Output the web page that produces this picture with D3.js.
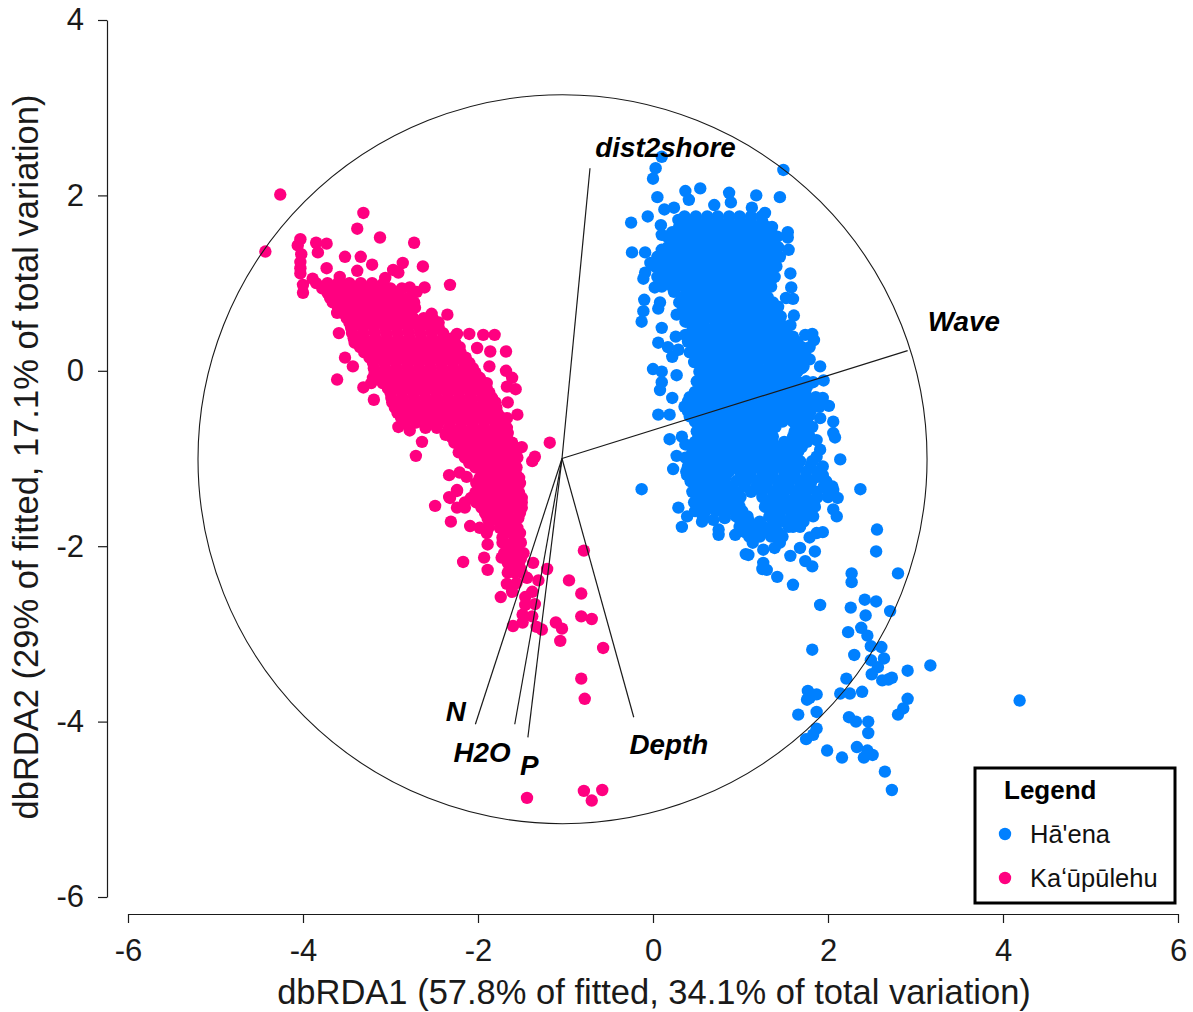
<!DOCTYPE html>
<html><head><meta charset="utf-8">
<script src="https://cdn.jsdelivr.net/npm/d3@7"></script>
<style>html,body{margin:0;background:#fff}svg{display:block}text{font-family:"Liberation Sans",Arial,sans-serif}</style>
</head><body><svg id="c" width="1193" height="1012"></svg>
<script>
const xTicks=[-6,-4,-2,0,2,4,6];
const yTicks=[-6,-4,-2,0,2,4];
const xTitle="dbRDA1 (57.8% of fitted, 34.1% of total variation)";
const yTitle="dbRDA2 (29% of fitted, 17.1% of total variation)";
const sites=["Hā'ena","Kaʻūpūlehu"];
const vectorOrigin=[-1.04,-1.00];
const circleCentre=[-1.034,-1.008];
const circleRadiusX=4.166;
const circleRadiusY=4.156;
const vectorNames=["dist2shore","Wave","Depth","P","H2O","N"];
const vectorEndX=[-0.72,2.91,-0.22,-1.43,-1.58,-2.03];
const vectorEndY=[2.31,0.23,-3.95,-4.18,-4.03,-4.03];
const vectorLabelX=[-0.66,3.14,-0.27,-1.52,-2.28,-2.37];
const vectorLabelY=[2.44,0.45,-4.37,-4.61,-4.46,-3.99];

// dense cloud, read band by band: [y, x, x, x, ...]
const haenaCore=[
[1.76,0.36,0.49,0.62,0.74,0.87,0.99,1.12,1.24],
[1.64,0.30,0.43,0.55,0.68,0.80,0.93,1.05,1.18,1.30,1.36],
[1.53,0.16,0.28,0.41,0.53,0.66,0.78,0.91,1.03,1.16,1.28,1.42],
[1.41,0.17,0.30,0.42,0.55,0.67,0.80,0.92,1.05,1.17,1.30,1.43],
[1.30,0.05,0.18,0.31,0.43,0.56,0.68,0.81,0.93,1.06,1.18,1.31,1.45],
[1.19,0.02,0.15,0.28,0.40,0.53,0.65,0.78,0.90,1.03,1.15,1.28,1.41],
[1.07,0.05,0.18,0.30,0.43,0.55,0.68,0.80,0.93,1.05,1.18,1.30,1.39],
[0.96,0.10,0.22,0.35,0.47,0.60,0.72,0.85,0.97,1.10,1.22,1.35],
[0.84,0.33,0.45,0.58,0.70,0.83,0.95,1.08,1.20,1.31],
[0.73,0.35,0.42,0.55,0.67,0.80,0.92,1.05,1.17,1.30,1.43],
[0.62,0.40,0.52,0.65,0.77,0.90,1.02,1.15,1.27,1.40,1.46],
[0.50,0.45,0.58,0.70,0.83,0.95,1.08,1.20,1.33,1.45,1.53],
[0.39,0.47,0.60,0.72,0.85,0.97,1.10,1.22,1.35,1.47,1.60],
[0.27,0.50,0.62,0.75,0.87,1.00,1.12,1.25,1.37,1.50,1.62,1.70],
[0.16,0.50,0.63,0.75,0.88,1.00,1.13,1.25,1.38,1.50,1.63,1.75],
[0.05,0.58,0.70,0.83,0.95,1.08,1.20,1.33,1.45,1.58,1.72],
[-0.07,0.60,0.72,0.85,0.97,1.10,1.22,1.35,1.47,1.58],
[-0.18,0.58,0.70,0.83,0.95,1.08,1.20,1.33,1.45,1.58,1.72,1.76],
[-0.30,0.42,0.55,0.68,0.80,0.93,1.05,1.18,1.30,1.43,1.55,1.66,1.86],
[-0.41,0.36,0.47,0.60,0.72,0.85,0.97,1.10,1.22,1.35,1.47,1.60,1.72,1.90],
[-0.52,0.42,0.55,0.67,0.80,0.92,1.05,1.17,1.30,1.42,1.55,1.67,1.78],
[-0.64,0.55,0.65,0.78,0.90,1.03,1.15,1.28,1.40,1.68,1.82],
[-0.75,0.52,0.62,0.75,0.87,1.00,1.12,1.25,1.37,1.60,1.73],
[-0.87,0.55,0.68,0.80,0.93,1.05,1.18,1.30,1.43,1.58,1.70],
[-0.98,0.50,0.63,0.75,0.88,1.00,1.13,1.25,1.38,1.50,1.60,1.87],
[-1.09,0.40,0.52,0.65,0.77,0.90,1.02,1.15,1.27,1.40,1.52,1.65,1.80],
[-1.21,0.45,0.58,0.70,0.83,1.00,1.12,1.25,1.37,1.50,1.62,1.75,1.88],
[-1.32,0.50,0.62,0.75,0.87,1.05,1.18,1.30,1.43,1.55,1.68,1.80,1.95,2.05],
[-1.44,0.50,0.63,0.75,0.88,1.00,1.25,1.38,1.50,1.63,1.75,1.88,2.00],
[-1.55,0.53,0.65,0.78,0.90,0.99,1.28,1.40,1.53,1.65,1.78,1.85],
[-1.66,0.57,0.95,1.08,1.33,1.45,1.58,1.70,1.83],
[-1.78,1.02,1.15,1.27,1.40,1.55,1.68],
[-1.89,1.10,1.22,1.35,1.48]
];
const haenaCoreBetween=[
[1.70,0.38,0.50,0.62,0.75,0.87,1.00,1.12,1.25],
[1.58,0.22,0.35,0.47,0.60,0.72,0.85,0.97,1.10,1.22,1.35],
[1.47,0.23,0.35,0.48,0.60,0.73,0.85,0.98,1.10,1.23,1.36],
[1.35,0.12,0.24,0.37,0.49,0.62,0.74,0.87,0.99,1.12,1.24,1.37],
[1.24,0.11,0.24,0.37,0.49,0.62,0.74,0.87,0.99,1.12,1.24,1.36],
[1.13,0.10,0.22,0.35,0.47,0.60,0.72,0.85,0.97,1.10,1.22,1.35],
[1.01,0.14,0.27,0.37,0.49,0.62,0.74,0.87,0.99,1.12,1.24,1.34],
[0.90,0.24,0.39,0.52,0.64,0.77,0.89,1.02,1.14,1.27],
[0.78,0.30,0.39,0.50,0.62,0.75,0.87,1.00,1.12,1.25,1.37],
[0.67,0.33,0.47,0.60,0.72,0.85,0.97,1.10,1.22,1.35],
[0.56,0.37,0.47,0.58,0.71,0.83,0.96,1.08,1.21,1.33,1.45],
[0.44,0.52,0.65,0.77,0.90,1.02,1.15,1.27,1.40,1.52],
[0.33,0.40,0.55,0.67,0.80,0.92,1.05,1.17,1.30,1.42,1.55,1.65],
[0.21,0.42,0.56,0.69,0.81,0.94,1.06,1.19,1.31,1.44,1.56,1.69],
[0.10,0.47,0.57,0.69,0.82,0.94,1.07,1.19,1.32,1.44,1.57,1.70],
[-0.01,0.53,0.65,0.77,0.90,1.02,1.15,1.27,1.40,1.52,1.65],
[-0.12,0.50,0.66,0.78,0.91,1.03,1.16,1.28,1.41,1.53,1.65,1.75],
[-0.24,0.48,0.63,0.76,0.88,1.00,1.13,1.25,1.38,1.50,1.62,1.74],
[-0.35,0.40,0.50,0.62,0.74,0.87,0.99,1.12,1.24,1.37,1.49,1.61,1.74,1.84],
[-0.46,0.40,0.53,0.66,0.78,0.91,1.03,1.16,1.28,1.41,1.53,1.66,1.80],
[-0.58,0.48,0.60,0.73,0.85,0.98,1.10,1.23,1.35,1.48,1.60,1.72],
[-0.69,0.50,0.59,0.71,0.84,0.96,1.09,1.21,1.33,1.62,1.75],
[-0.81,0.48,0.60,0.73,0.85,0.98,1.10,1.23,1.36,1.50,1.63,1.76],
[-0.92,0.45,0.57,0.70,0.82,0.95,1.07,1.20,1.32,1.44,1.55,1.66],
[-1.03,0.46,0.58,0.70,0.83,0.95,1.08,1.20,1.33,1.45,1.55,1.68,1.82],
[-1.15,0.38,0.50,0.62,0.75,0.87,1.00,1.12,1.25,1.37,1.50,1.62,1.75,1.88],
[-1.26,0.43,0.56,0.68,0.81,0.95,1.06,1.19,1.31,1.44,1.56,1.69,1.81,1.98],
[-1.38,0.45,0.57,0.69,0.82,0.95,1.12,1.24,1.37,1.49,1.62,1.74,1.87,2.00],
[-1.50,0.47,0.59,0.72,0.84,0.95,1.34,1.47,1.59,1.72,1.84],
[-1.60,0.48,0.60,0.72,0.84,0.94,1.02,1.35,1.46,1.58,1.70,1.80],
[-1.72,1.00,1.10,1.22,1.38,1.50,1.62,1.72],
[-1.84,1.05,1.18,1.30,1.43]
];
const haenaFringe=[[0.10,2.44],[0.03,2.31],[0.00,2.19],[0.05,1.98],[1.49,2.29],[0.37,2.05],[0.54,2.08],[0.41,1.95],[0.87,2.03],[0.89,1.92],[1.18,2.00],[1.45,1.98],[0.13,1.84],[0.24,1.86],[-0.25,1.69],[-0.06,1.76],[0.09,1.66],[0.29,1.72],[0.70,1.89],[1.13,1.86],[1.28,1.80],[1.54,1.58],[1.54,1.52],[1.55,1.38],[-0.24,1.35],[-0.09,1.35],[0.10,1.55],[0.10,1.38],[-0.03,1.23],[-0.09,1.12],[-0.11,1.05],[1.57,1.11],[1.58,0.95],[1.60,0.82],[1.52,0.83],[1.61,0.63],[1.57,0.52],[0.02,0.95],[-0.10,0.81],[-0.11,0.68],[-0.13,0.56],[0.10,0.49],[0.08,0.78],[0.06,0.71],[0.27,0.64],[0.26,0.39],[0.37,0.41],[0.06,0.32],[0.17,0.27],[0.29,0.24],[0.22,0.16],[0.00,0.02],[0.10,-0.01],[0.10,-0.13],[0.27,-0.05],[1.74,0.41],[1.82,0.42],[1.84,0.35],[1.79,0.27],[1.79,0.13],[1.91,0.05],[1.70,0.03],[1.95,-0.11],[1.83,-0.13],[1.70,-0.14],[0.06,-0.50],[0.19,-0.50],[0.08,-0.22],[0.22,-0.31],[0.19,-0.78],[0.33,-0.75],[0.37,-0.84],[0.27,-0.97],[0.37,-0.99],[0.23,-1.12],[0.39,-1.19],[-0.13,-1.35],[2.37,-1.35],[2.14,-1.01],[2.06,-0.58],[2.06,-0.71],[2.08,-0.76],[1.94,-0.31],[2.01,-0.40],[1.77,-0.33],[1.91,-0.54],[1.91,-0.90],[1.94,-1.09],[1.94,-1.19],[1.79,-0.75],[1.87,-0.79],[2.06,-1.36],[2.11,-1.45],[2.06,-1.58],[2.10,-1.66],[0.29,-1.56],[0.33,-1.78],[0.39,-1.66],[0.56,-1.72],[0.69,-1.70],[0.75,-1.81],[0.75,-1.87],[0.82,-1.68],[0.94,-1.87],[0.99,-1.78],[1.14,-1.96],[1.06,-2.09],[1.09,-2.10],[1.26,-2.04],[1.26,-2.19],[1.25,-2.26],[1.30,-2.27],[1.42,-2.35],[1.60,-2.44],[1.57,-2.11],[1.45,-1.96],[1.39,-2.02],[1.60,-1.78],[1.68,-2.02],[1.79,-1.90],[1.94,-1.84],[1.87,-1.85],[1.85,-2.06],[1.74,-2.17],[1.82,-2.23]];
const haenaSouth=[[2.56,-1.81],[2.55,-2.06],[2.80,-2.31],[2.27,-2.31],[2.27,-2.41],[1.91,-2.67],[2.26,-2.70],[2.42,-2.61],[2.55,-2.63],[2.71,-2.74],[2.43,-2.79],[2.23,-2.98],[2.38,-2.93],[2.45,-3.02],[2.49,-3.14],[2.61,-3.15],[1.82,-3.18],[2.30,-3.24],[2.49,-3.30],[2.64,-3.28],[2.57,-3.38],[3.17,-3.36],[2.91,-3.42],[2.50,-3.46],[2.21,-3.51],[2.62,-3.53],[2.73,-3.50],[2.69,-3.52],[1.77,-3.65],[1.87,-3.69],[1.76,-3.75],[1.79,-3.73],[2.14,-3.68],[2.25,-3.68],[2.39,-3.66],[2.91,-3.74],[4.19,-3.76],[2.86,-3.85],[2.80,-3.92],[1.66,-3.92],[1.87,-3.89],[2.24,-3.95],[2.32,-4.00],[2.46,-4.00],[2.46,-4.13],[1.87,-4.08],[1.83,-4.15],[1.75,-4.20],[1.99,-4.33],[2.16,-4.41],[2.33,-4.29],[2.45,-4.33],[2.51,-4.38],[2.41,-4.41],[2.65,-4.57],[2.73,-4.78]];
const kaupulehuCore=[
[1.00,-3.85,-3.72,-3.60,-3.47,-3.34,-3.21,-3.08],
[0.89,-3.72,-3.58,-3.45,-3.33,-3.20,-3.07,-2.93],
[0.78,-3.66,-3.52,-3.40,-3.27,-3.14,-3.01,-2.88,-2.73],
[0.66,-3.55,-3.42,-3.29,-3.16,-3.03,-2.90,-2.77],
[0.55,-3.47,-3.34,-3.21,-3.08,-2.95,-2.82,-2.69,-2.56,-2.45],
[0.43,-3.44,-3.31,-3.18,-3.05,-2.92,-2.79,-2.66,-2.53,-2.40],
[0.32,-3.41,-3.28,-3.15,-3.02,-2.89,-2.76,-2.63,-2.50,-2.37,-2.26],
[0.21,-3.30,-3.17,-3.04,-2.91,-2.78,-2.65,-2.52,-2.39,-2.26,-2.20],
[0.09,-3.20,-3.07,-2.94,-2.81,-2.68,-2.55,-2.42,-2.29,-2.16,-2.10],
[-0.02,-3.18,-3.05,-2.92,-2.79,-2.66,-2.53,-2.40,-2.27,-2.14,-2.03],
[-0.14,-3.22,-3.09,-2.96,-2.83,-2.70,-2.57,-2.44,-2.31,-2.18,-2.05,-1.95],
[-0.25,-3.00,-2.87,-2.74,-2.61,-2.48,-2.35,-2.22,-2.09,-1.96,-1.87],
[-0.36,-2.98,-2.85,-2.72,-2.59,-2.46,-2.33,-2.20,-2.07,-1.94,-1.80],
[-0.48,-2.92,-2.79,-2.66,-2.53,-2.40,-2.27,-2.14,-2.01,-1.88,-1.78],
[-0.59,-2.84,-2.71,-2.58,-2.45,-2.32,-2.19,-2.06,-1.93,-1.80,-1.70],
[-0.71,-2.36,-2.23,-2.10,-1.97,-1.84,-1.71,-1.66],
[-0.82,-2.27,-2.14,-2.01,-1.88,-1.75,-1.62],
[-0.93,-2.22,-2.09,-1.96,-1.83,-1.70,-1.57],
[-1.05,-2.10,-1.97,-1.84,-1.71,-1.58],
[-1.16,-1.95,-1.82,-1.69,-1.57],
[-1.28,-2.02,-1.89,-1.76,-1.63,-1.52],
[-1.39,-2.03,-1.90,-1.77,-1.64,-1.53],
[-1.50,-2.15,-2.02,-1.89,-1.76,-1.63,-1.50],
[-1.62,-1.92,-1.79,-1.66,-1.52],
[-1.73,-1.87,-1.74,-1.60],
[-1.85,-1.90,-1.62,-1.52],
[-1.96,-1.72,-1.60,-1.51],
[-2.08,-1.70,-1.58,-1.48],
[-2.19,-1.66,-1.53],
[-2.30,-1.58,-1.50],
[-2.42,-1.56]
];
const kaupulehuCoreBetween=[
[0.94,-3.78,-3.65,-3.52,-3.39,-3.26,-3.13,-3.00,-2.87],
[0.83,-3.69,-3.55,-3.43,-3.30,-3.17,-3.04,-2.90,-2.80],
[0.72,-3.60,-3.47,-3.34,-3.21,-3.09,-2.96,-2.83,-2.72],
[0.60,-3.50,-3.38,-3.25,-3.12,-2.99,-2.86,-2.74,-2.62,-2.52],
[0.49,-3.45,-3.32,-3.19,-3.06,-2.93,-2.80,-2.67,-2.54,-2.45],
[0.37,-3.42,-3.30,-3.17,-3.04,-2.91,-2.78,-2.65,-2.52,-2.39,-2.30],
[0.27,-3.35,-3.22,-3.09,-2.96,-2.83,-2.70,-2.57,-2.44,-2.31,-2.21],
[0.15,-3.24,-3.11,-2.98,-2.85,-2.72,-2.59,-2.46,-2.33,-2.20,-2.14],
[0.03,-3.19,-3.06,-2.93,-2.80,-2.67,-2.54,-2.41,-2.28,-2.15,-2.06],
[-0.08,-3.20,-3.11,-2.98,-2.85,-2.72,-2.59,-2.46,-2.33,-2.20,-2.08,-1.98],
[-0.20,-3.03,-2.90,-2.78,-2.65,-2.52,-2.39,-2.26,-2.13,-2.00,-1.90],
[-0.31,-2.99,-2.86,-2.73,-2.60,-2.47,-2.34,-2.21,-2.08,-1.95,-1.84],
[-0.42,-2.95,-2.82,-2.69,-2.56,-2.43,-2.30,-2.17,-2.04,-1.91,-1.79],
[-0.53,-2.88,-2.75,-2.62,-2.49,-2.36,-2.23,-2.10,-1.97,-1.84,-1.74],
[-0.65,-2.60,-2.47,-2.33,-2.20,-2.07,-1.94,-1.81,-1.70],
[-0.76,-2.30,-2.17,-2.04,-1.91,-1.78,-1.67],
[-0.87,-2.20,-2.07,-1.94,-1.81,-1.68,-1.58],
[-0.99,-2.15,-2.03,-1.90,-1.77,-1.64,-1.55],
[-1.10,-2.03,-1.90,-1.77,-1.64,-1.56],
[-1.22,-1.98,-1.85,-1.72,-1.60,-1.53],
[-1.33,-1.96,-1.83,-1.70,-1.58],
[-1.45,-2.08,-1.96,-1.83,-1.70,-1.58,-1.50],
[-1.56,-1.96,-1.83,-1.70,-1.57,-1.50],
[-1.68,-1.89,-1.76,-1.63,-1.54],
[-1.79,-1.88,-1.75,-1.65,-1.55],
[-1.90,-1.72,-1.57],
[-2.02,-1.66,-1.55],
[-2.14,-1.62,-1.51],
[-2.25,-1.60,-1.52]
];
const kaupulehuFringe=[[-4.26,2.01],[-4.43,1.36],[-3.31,1.80],[-3.38,1.62],[-3.12,1.52],[-2.73,1.46],[-4.03,1.50],[-4.06,1.43],[-4.02,1.33],[-4.03,1.24],[-4.03,1.17],[-4.03,1.11],[-4.00,0.98],[-4.00,0.89],[-3.85,1.46],[-3.73,1.45],[-3.83,1.35],[-3.52,1.30],[-3.34,1.30],[-2.86,1.23],[-2.63,1.19],[-2.97,1.15],[-2.91,1.12],[-2.32,0.98],[-2.78,0.95],[-2.61,0.95],[-2.70,0.90],[-3.73,1.17],[-3.89,1.05],[-3.58,1.07],[-3.38,1.14],[-3.21,1.21],[-3.06,1.06],[-3.61,0.66],[-3.59,0.43],[-3.52,0.15],[-3.43,0.05],[-3.61,-0.10],[-3.31,-0.19],[-3.19,-0.33],[-2.53,0.65],[-2.35,0.64],[-2.24,0.42],[-2.10,0.42],[-1.94,0.41],[-1.81,0.41],[-2.01,0.26],[-1.86,0.22],[-1.68,0.22],[-1.87,0.05],[-1.68,0.00],[-1.61,-0.08],[-1.90,-0.14],[-1.67,-0.18],[-1.57,-0.21],[-1.66,-0.36],[-1.55,-0.50],[-1.67,-0.54],[-1.67,-0.65],[-1.18,-0.82],[-1.35,-0.98],[-1.38,-1.03],[-1.50,-0.87],[-1.61,-0.82],[-2.71,-0.97],[-2.64,-0.81],[-2.91,-0.64],[-2.78,-0.68],[-2.37,-0.73],[-2.33,-1.19],[-2.21,-1.16],[-2.13,-1.21],[-2.24,-1.36],[-2.33,-1.44],[-2.49,-1.54],[-2.32,-1.45],[-2.24,-1.37],[-2.31,-1.72],[-2.24,-1.56],[-2.15,-1.56],[-2.09,-1.77],[-1.98,-1.79],[-2.17,-2.18],[-1.93,-2.13],[-1.89,-2.27],[-1.89,-1.98],[-1.73,-2.13],[-1.66,-2.30],[-1.67,-2.43],[-1.74,-2.58],[-1.61,-2.52],[-1.44,-2.36],[-1.37,-2.19],[-1.21,-2.26],[-1.31,-2.39],[-1.38,-2.52],[-1.46,-2.58],[-1.35,-2.66],[-1.46,-2.67],[-1.49,-2.78],[-1.38,-2.80],[-1.60,-2.91],[-1.49,-2.87],[-1.33,-2.92],[-1.27,-2.95],[-1.11,-2.87],[-1.04,-2.94],[-1.06,-3.08],[-0.96,-2.39],[-0.82,-2.54],[-0.79,-2.05],[-0.82,-2.80],[-0.70,-2.83],[-0.57,-3.16],[-0.82,-3.51],[-0.78,-3.74],[-1.44,-4.87],[-0.79,-4.79],[-0.58,-4.78],[-0.70,-4.90]];

const BLUE="#0080ff",PINK="#ff0080",INK="#1a1a1a";
const unrow=rows=>rows.flatMap(([y,...xs])=>xs.map(x=>[x,y]));
const svg=d3.select("#c");
const x=d3.scaleLinear([-6,6],[128,1178]);
const y=d3.scaleLinear([-6,4],[897,20]);
const fmt=d=>String(d);

const gx=svg.append("g").attr("transform","translate(0,914)")
 .call(d3.axisBottom(x).tickValues(xTicks).tickFormat(fmt).tickSize(9).tickPadding(16).tickSizeOuter(0));
const gy=svg.append("g").attr("transform","translate(107,0)")
 .call(d3.axisLeft(y).tickValues(yTicks).tickFormat(fmt).tickSize(9).tickPadding(14).tickSizeOuter(0));
[gx,gy].forEach(g=>{g.selectAll("path,line").attr("stroke",INK).attr("stroke-width",1.2);
 g.selectAll("text").attr("font-size",31).attr("font-family",'"Liberation Sans"').attr("fill",INK);});

svg.append("text").attr("x",654).attr("y",1004).attr("text-anchor","middle").attr("font-size",34.5).attr("fill",INK).text(xTitle);
svg.append("text").attr("transform","translate(38,457) rotate(-90)").attr("text-anchor","middle").attr("font-size",34.5).attr("fill",INK).text(yTitle);

const dots=(pts,c)=>svg.append("g").selectAll("circle").data(pts).join("circle")
 .attr("cx",d=>x(d[0])).attr("cy",d=>y(d[1])).attr("r",6.2).attr("fill",c);
dots([...unrow(kaupulehuCore),...unrow(kaupulehuCoreBetween),...kaupulehuFringe],PINK);
dots([...unrow(haenaCore),...unrow(haenaCoreBetween),...haenaFringe,...haenaSouth],BLUE);

svg.append("ellipse").attr("cx",x(circleCentre[0])).attr("cy",y(circleCentre[1]))
 .attr("rx",x(circleRadiusX)-x(0)).attr("ry",y(0)-y(circleRadiusY))
 .attr("fill","none").attr("stroke",INK).attr("stroke-width",1.1);
svg.append("g").selectAll("line").data(vectorNames).join("line")
 .attr("x1",x(vectorOrigin[0])).attr("y1",y(vectorOrigin[1]))
 .attr("x2",(d,i)=>x(vectorEndX[i])).attr("y2",(d,i)=>y(vectorEndY[i]))
 .attr("stroke",INK).attr("stroke-width",1.2);
svg.append("g").selectAll("text").data(vectorNames).join("text")
 .attr("x",(d,i)=>x(vectorLabelX[i])).attr("y",(d,i)=>y(vectorLabelY[i]))
 .attr("font-size",27.8).attr("font-weight","bold").attr("font-style","italic").attr("fill","#000").text(d=>d);

const lg=svg.append("g");
lg.append("rect").attr("x",975).attr("y",768).attr("width",200).attr("height",135).attr("fill","#fff").attr("stroke","#000").attr("stroke-width",3);
lg.append("text").attr("x",1004).attr("y",799).attr("font-size",26).attr("font-weight","bold").attr("fill","#000").text("Legend");
lg.selectAll("circle").data(sites).join("circle").attr("cx",1005).attr("cy",(d,i)=>834+i*44).attr("r",6.2).attr("fill",(d,i)=>i?PINK:BLUE);
lg.selectAll("text.k").data(sites).join("text").attr("class","k").attr("x",1030).attr("y",(d,i)=>843+i*44).attr("font-size",25.5).attr("fill","#111").text(d=>d);
</script></body></html>
